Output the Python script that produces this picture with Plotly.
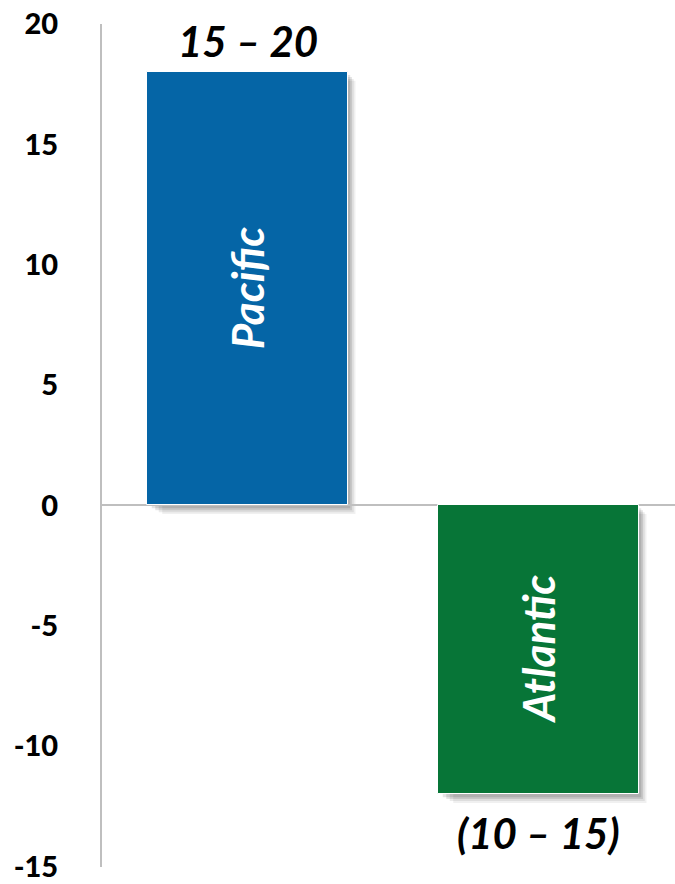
import plotly.graph_objects as go

categories = ["Pacific", "Atlantic"]
values = [18, -12]
range_labels = ["15 – 20", "(10 – 15)"]
colors = ["#0565A6", "#077537"]
tick_vals = [-15, -10, -5, 0, 5, 10, 15, 20]
tick_text = ["-15", "-10", "-5", "0", "5", "10", "15", "20"]

xpos = list(range(len(categories)))
bar_w = 0.69

fig = go.Figure()

# drop shadow imitation
shapes = []
for i, v in zip(xpos, values):
    for k, op in enumerate([0.10, 0.10, 0.08, 0.06]):
        dx = 0.008 + 0.006 * k
        dy = 0.12 + 0.08 * k
        shapes.append(dict(type="rect", xref="x", yref="y",
                           x0=i - bar_w / 2 + dx * 2, x1=i + bar_w / 2 + dx,
                           y0=min(0, v) - dy, y1=max(0, v) - dy,
                           fillcolor=f"rgba(0,0,0,{op})", line=dict(width=0),
                           layer="below"))

fig.add_trace(go.Bar(
    x=xpos, y=values, width=bar_w,
    marker=dict(color=colors, line=dict(color="white", width=1)),
    text=categories, textposition="inside", insidetextanchor="middle",
    textangle=-90, constraintext="none",
    textfont=dict(family="Lato", size=44, color="white", weight="bold", style="italic"),
    hoverinfo="skip",
))

annotations = []
for i, v, lab in zip(xpos, values, range_labels):
    annotations.append(dict(
        x=i, y=v, xref="x", yref="y", text=lab, showarrow=False,
        yanchor="bottom" if v > 0 else "top",
        yshift=4 if v > 0 else -12,
        font=dict(family="Lato", size=42, color="black", weight="bold", style="italic"),
    ))

fig.update_layout(
    width=675, height=884,
    margin=dict(l=102, r=0, t=24, b=17, autoexpand=False),
    plot_bgcolor="white", paper_bgcolor="white",
    showlegend=False,
    shapes=shapes,
    annotations=annotations,
    bargap=0,
)
fig.update_xaxes(range=[-0.5, 1.469], showticklabels=False, showgrid=False,
                 zeroline=False, showline=False, automargin=False)
fig.update_yaxes(range=[-15.02, 20], tickvals=tick_vals, ticktext=tick_text,
                 showgrid=False, automargin=False,
                 zeroline=True, zerolinecolor="#BFBFBF", zerolinewidth=2,
                 showline=True, linecolor="#BFBFBF", linewidth=2,
                 ticks="", ticklabelstandoff=36, ticklabeloverflow="allow",
                 tickfont=dict(family="Lato", size=29, color="black", weight=900))

fig.write_html("out.html")
